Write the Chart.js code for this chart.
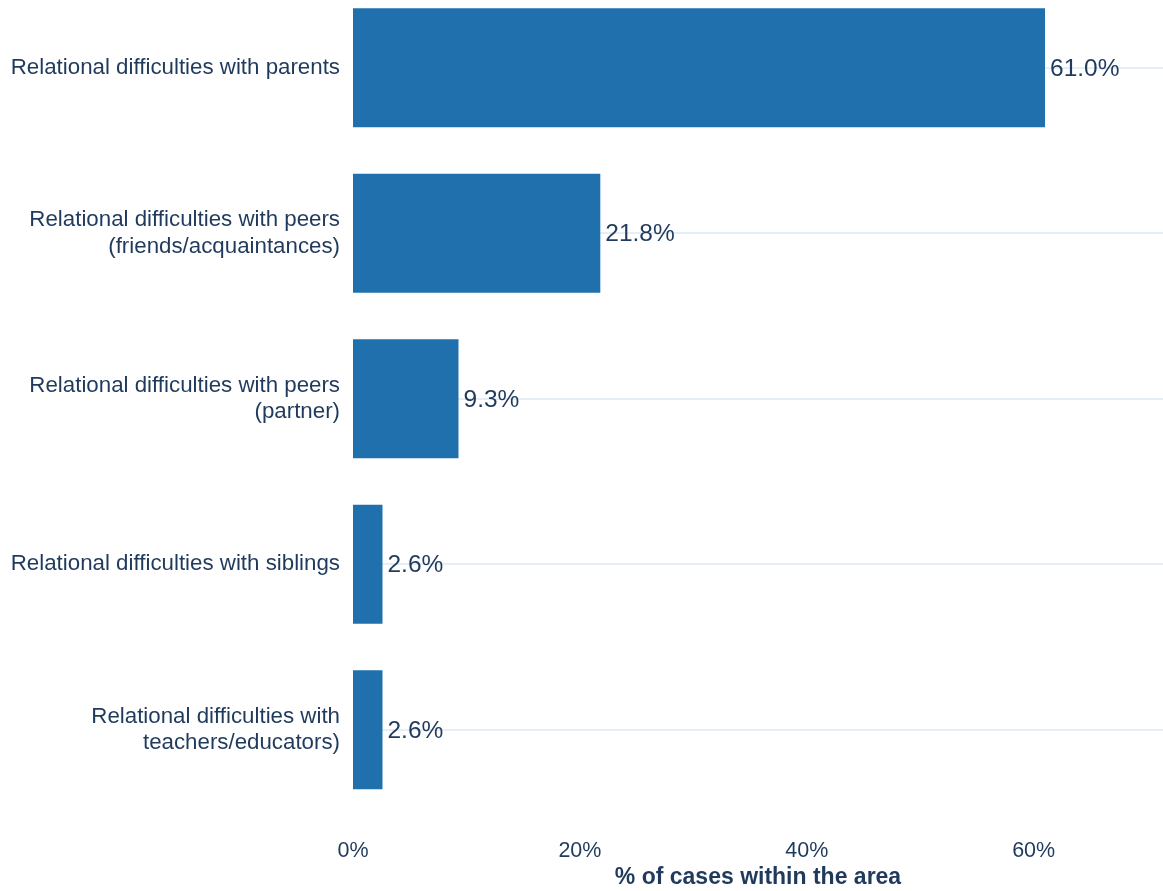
<!DOCTYPE html>
<html>
<head>
<meta charset="utf-8">
<script src="https://cdn.jsdelivr.net/npm/chart.js@4"></script>
<style>
    html, body { margin: 0; padding: 0; background: #fff; overflow: hidden; }
    #relationsChart { display: block; margin-top: -15px; }
</style>
</head>
<body>
<canvas id="relationsChart" width="1163" height="906"></canvas>
<script>
const categories = [
    'Relational difficulties with parents',
    ['Relational difficulties with peers', '(friends/acquaintances)'],
    ['Relational difficulties with peers', '(partner)'],
    'Relational difficulties with siblings',
    ['Relational difficulties with', 'teachers/educators)']
];
const shareValues = [61.0, 21.8, 9.3, 2.6, 2.6];
const xTickValues = [0, 20, 40, 60];

const textColor = '#1f3a5c';
const barColor = '#2170ae';
const fontFamily = '"Liberation Sans", Arial, sans-serif';

// value text right of each bar
const valueLabels = {
    id: 'valueLabels',
    afterDatasetsDraw(chart) {
        const ctx = chart.ctx;
        const meta = chart.getDatasetMeta(0);
        ctx.save();
        ctx.font = '24.5px ' + fontFamily;
        ctx.fillStyle = textColor;
        ctx.textAlign = 'left';
        ctx.textBaseline = 'middle';
        meta.data.forEach((bar, i) => {
            ctx.fillText(shareValues[i].toFixed(1) + '%', bar.x + 5, bar.y + 1);
        });
        ctx.restore();
    }
};

const relationsChart = document.getElementById('relationsChart').getContext('2d');

const chartConfig = {
    type: 'bar',
    data: {
        labels: categories,
        datasets: [{
            data: shareValues,
            backgroundColor: barColor,
            borderWidth: 0,
            barPercentage: 0.72,
            categoryPercentage: 1
        }]
    },
    options: {
        indexAxis: 'y',
        responsive: false,
        animation: false,
        layout: { padding: 0 },
        plugins: {
            legend: { display: false },
            tooltip: { enabled: false }
        },
        scales: {
            x: {
                min: 0,
                max: 71.4,
                afterBuildTicks: scale => {
                    scale.ticks = xTickValues.map(v => ({ value: v }));
                },
                afterFit: scale => { scale.height = 78.5; },
                grid: { display: false, drawTicks: false },
                border: { display: false },
                ticks: {
                    color: textColor,
                    font: { family: fontFamily, size: 21.5 },
                    padding: 26,
                    callback: v => v + '%'
                },
                title: {
                    display: true,
                    text: '% of cases within the area',
                    color: textColor,
                    font: { family: fontFamily, size: 23, weight: 'bold' },
                    padding: { top: 0, bottom: 0 }
                }
            },
            y: {
                afterFit: scale => {
                    scale.width = 353;
                    scale.paddingTop = 0;
                    scale.paddingBottom = 0;
                },
                grid: {
                    offset: false,
                    color: '#e6eef7',
                    lineWidth: 2,
                    drawTicks: false
                },
                border: { display: false },
                ticks: {
                    color: textColor,
                    font: { family: fontFamily, size: 22.3, lineHeight: 1.2 },
                    padding: 13
                }
            }
        }
    },
    plugins: [valueLabels]
};

new Chart(relationsChart, chartConfig);
</script>
</body>
</html>
